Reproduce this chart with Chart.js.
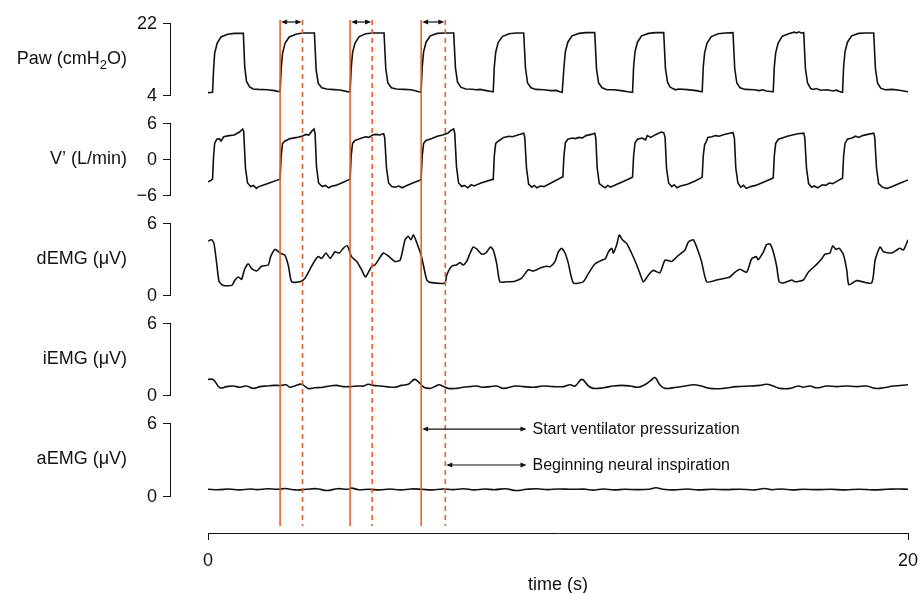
<!DOCTYPE html>
<html>
<head>
<meta charset="utf-8">
<script src="https://cdn.jsdelivr.net/npm/chart.js@4.4.0/dist/chart.umd.min.js"></script>
<style>
  body { margin: 0; background: #fff; }
  #wrap { width: 919px; height: 593px; position: relative; }
</style>
</head>
<body>
<div id="wrap"><canvas id="emgChart"></canvas></div>
<script>
// ---- data ----
const timeTicks = [0, 20];
const pawTicks = [4, 22];
const flowTicks = [-6, 0, 6];
const emgTicks = [0, 6];

// onset of ventilator pressurization (solid) and of neural inspiration (dashed), s
const ventStart = [2.06, 4.06, 6.09];
const neuralStart = [2.70, 4.69, 6.78];

// [time (s), value]
const pawPoints = [
  [0.00,4.6],[0.13,4.7],[0.16,10.5],[0.19,14.4],[0.26,16.9],[0.37,18.5],[0.56,19.2],[0.75,19.4],[1.01,19.4],[1.05,11.0],[1.10,7.4],[1.19,6.0],[1.29,5.5],[1.45,5.4],[1.70,5.3],[1.90,5.1],[2.04,4.8],
  [2.06,4.8],[2.09,10.5],[2.13,14.4],[2.20,16.9],[2.32,18.5],[2.51,19.2],[2.70,19.5],[3.04,19.5],[3.09,10.3],[3.15,6.9],[3.25,5.8],[3.39,5.5],[3.60,5.35],[3.77,5.25],[3.95,4.9],[4.04,4.75],
  [4.06,4.8],[4.09,10.5],[4.13,14.6],[4.20,17.0],[4.32,18.6],[4.51,19.3],[4.70,19.5],[5.03,19.5],[5.08,10.5],[5.14,7.0],[5.24,5.8],[5.38,5.5],[5.60,5.4],[5.80,5.3],[5.95,5.0],[6.07,4.7],
  [6.09,4.75],[6.12,11.0],[6.16,14.8],[6.23,17.2],[6.35,18.8],[6.55,19.4],[6.75,19.5],[7.02,19.5],[7.07,10.8],[7.13,7.2],[7.23,5.9],[7.37,5.5],[7.55,5.45],[7.65,5.3],[7.78,5.4],[7.95,5.1],[8.13,4.8],
  [8.15,4.8],[8.18,11.0],[8.22,14.7],[8.29,17.1],[8.41,18.6],[8.60,19.3],[8.80,19.5],[9.02,19.5],[9.07,10.8],[9.13,7.0],[9.23,5.8],[9.37,5.4],[9.60,5.3],[9.80,5.1],[9.95,5.15],[10.05,4.8],[10.12,4.7],
  [10.14,4.7],[10.17,11.0],[10.21,14.8],[10.28,17.2],[10.40,18.8],[10.60,19.4],[10.80,19.6],[11.05,19.6],[11.10,10.5],[11.16,7.0],[11.26,5.8],[11.40,5.3],[11.60,5.3],[11.80,5.1],[12.00,4.8],[12.11,4.7],
  [12.13,4.7],[12.16,11.0],[12.20,14.8],[12.27,17.2],[12.39,18.8],[12.59,19.4],[12.79,19.6],[13.02,19.6],[13.07,10.6],[13.13,7.2],[13.20,6.0],[13.28,5.6],[13.36,5.3],[13.45,5.5],[13.70,5.35],[13.95,5.1],[14.10,4.8],
  [14.12,4.8],[14.15,11.0],[14.19,14.6],[14.26,17.0],[14.38,18.6],[14.58,19.3],[14.78,19.5],[15.00,19.6],[15.05,10.5],[15.11,7.0],[15.20,5.8],[15.35,5.4],[15.60,5.3],[15.75,5.1],[15.85,5.3],[15.95,5.0],[16.13,4.8],
  [16.15,4.8],[16.18,11.0],[16.22,14.6],[16.29,17.0],[16.41,18.7],[16.61,19.4],[16.75,19.7],[16.82,19.5],[16.88,19.8],[16.95,19.5],[17.02,19.6],[17.07,10.5],[17.13,7.0],[17.22,5.6],[17.30,5.4],[17.38,5.6],[17.50,5.2],[17.70,5.3],[17.85,5.0],[17.95,5.2],[18.10,4.7],
  [18.13,4.7],[18.16,11.0],[18.20,14.8],[18.27,17.2],[18.39,18.8],[18.59,19.4],[18.79,19.5],[19.02,19.5],[19.07,10.5],[19.13,7.0],[19.22,5.7],[19.35,5.3],[19.55,5.4],[19.75,5.2],[20.00,4.8]
];

const flowPoints = [
  [0.00,-3.8],[0.08,-3.6],[0.13,-3.3],[0.16,0.5],[0.19,2.6],[0.25,3.3],[0.32,3.4],[0.37,3.0],[0.45,3.7],[0.60,3.9],[0.75,4.0],[0.90,4.5],[0.99,5.0],[1.02,4.6],[1.07,-1.5],[1.13,-4.0],[1.22,-4.6],[1.30,-4.4],[1.38,-4.9],[1.45,-4.6],[1.55,-4.4],[1.75,-4.0],[2.04,-3.4],
  [2.06,-3.3],[2.09,0.5],[2.13,2.6],[2.20,3.0],[2.35,3.4],[2.55,3.6],[2.70,3.85],[2.80,4.1],[2.88,4.0],[2.96,4.6],[3.03,5.0],[3.06,4.2],[3.10,-1.3],[3.16,-4.0],[3.26,-4.6],[3.35,-4.4],[3.45,-4.8],[3.55,-4.5],[3.65,-4.4],[3.85,-3.9],[4.04,-3.4],
  [4.06,-3.3],[4.09,0.5],[4.13,2.6],[4.20,3.1],[4.35,3.4],[4.50,3.7],[4.60,3.6],[4.70,4.0],[4.80,4.1],[4.90,4.0],[5.02,4.2],[5.05,3.5],[5.10,-1.5],[5.16,-4.0],[5.25,-4.6],[5.35,-4.7],[5.45,-4.5],[5.55,-4.8],[5.65,-4.5],[5.85,-4.0],[6.07,-3.5],
  [6.09,-3.4],[6.12,0.5],[6.16,2.6],[6.23,3.1],[6.40,3.4],[6.55,3.8],[6.70,4.0],[6.85,4.3],[6.95,4.8],[7.02,5.0],[7.05,4.3],[7.10,-1.3],[7.16,-4.0],[7.25,-4.6],[7.33,-4.4],[7.42,-4.8],[7.52,-4.3],[7.60,-4.5],[7.80,-4.0],[8.13,-3.4],
  [8.15,-3.4],[8.18,0.5],[8.22,2.6],[8.30,3.0],[8.45,3.6],[8.60,3.8],[8.70,3.7],[8.85,4.0],[9.02,4.3],[9.05,3.6],[9.10,-1.5],[9.16,-4.2],[9.25,-4.7],[9.32,-4.4],[9.40,-4.8],[9.50,-4.5],[9.60,-4.6],[9.80,-4.0],[10.12,-3.0],
  [10.14,-2.9],[10.17,0.5],[10.21,2.7],[10.28,3.3],[10.40,3.5],[10.50,3.4],[10.60,3.6],[10.70,3.5],[10.80,3.9],[10.95,4.1],[11.05,4.3],[11.08,3.5],[11.12,-1.5],[11.18,-4.1],[11.27,-4.5],[11.35,-4.8],[11.42,-4.4],[11.50,-4.7],[11.65,-4.3],[11.85,-3.8],[12.11,-3.1],
  [12.13,-3.0],[12.16,0.5],[12.20,2.7],[12.27,3.3],[12.40,3.5],[12.50,3.2],[12.55,3.9],[12.65,3.6],[12.80,4.1],[12.95,4.5],[13.02,4.4],[13.06,3.6],[13.10,-1.5],[13.16,-4.0],[13.25,-4.6],[13.32,-4.3],[13.40,-4.8],[13.50,-4.5],[13.70,-4.2],[13.90,-3.7],[14.10,-3.1],
  [14.12,-3.0],[14.15,0.5],[14.19,2.4],[14.23,2.8],[14.28,3.6],[14.40,3.7],[14.50,3.9],[14.60,3.8],[14.75,4.1],[14.90,4.3],[15.00,4.4],[15.04,3.5],[15.08,-1.5],[15.14,-4.0],[15.22,-4.7],[15.30,-4.4],[15.38,-4.9],[15.50,-4.6],[15.65,-4.4],[15.85,-3.9],[16.13,-3.2],
  [16.15,-3.1],[16.18,0.5],[16.22,2.6],[16.30,3.3],[16.45,3.6],[16.55,3.8],[16.70,4.0],[16.85,4.2],[17.02,4.3],[17.05,3.6],[17.10,-1.5],[17.16,-4.1],[17.25,-4.7],[17.32,-4.5],[17.42,-4.8],[17.55,-4.3],[17.65,-4.4],[17.75,-4.0],[17.85,-4.1],[18.00,-3.6],[18.10,-3.3],
  [18.13,-3.2],[18.16,0.5],[18.20,2.6],[18.27,3.3],[18.40,3.5],[18.50,3.8],[18.60,3.6],[18.70,3.9],[18.85,4.1],[19.02,4.3],[19.05,3.6],[19.10,-1.5],[19.16,-4.1],[19.25,-4.6],[19.32,-4.8],[19.40,-4.9],[19.55,-4.6],[19.75,-4.1],[20.00,-3.5]
];

const demgPoints = [
  [0,4.5],[0.1,4.6],[0.17,4.3],[0.25,2.6],[0.32,1.1],[0.44,0.8],[0.68,0.8],[0.77,1.25],[0.87,1.5],[0.96,1.3],[1.04,2.1],[1.15,2.6],[1.25,2.2],[1.39,2.0],[1.53,2.4],[1.72,2.5],[1.79,3.2],[1.91,3.8],
  [2.06,3.5],[2.2,3.3],[2.3,2.4],[2.39,1.1],[2.63,1.1],[2.77,1.4],[2.96,2.4],[3.06,2.9],[3.15,3.2],[3.25,3.05],[3.37,3.5],[3.49,3.05],[3.63,3.6],[3.75,3.5],[3.87,3.9],[3.98,4.1],
  [4.1,3.2],[4.25,2.8],[4.39,2.1],[4.5,1.5],[4.68,2.4],[4.77,2.5],[5.01,3.5],[5.15,3.25],[5.34,2.8],[5.49,2.9],[5.63,4.6],[5.72,4.9],[5.8,4.6],[5.87,5.0],[5.96,4.4],
  [6.1,3.2],[6.25,1.25],[6.34,1.05],[6.77,1.0],[6.82,1.65],[6.96,2.4],[7.1,2.5],[7.2,2.7],[7.29,2.5],[7.39,2.8],[7.49,3.5],[7.58,4.0],[7.69,3.8],[7.82,3.4],[7.94,3.5],[8.07,4.0],
  [8.15,3.75],[8.25,2.6],[8.34,1.1],[8.53,1.1],[8.77,1.15],[8.96,1.4],[9.15,2.1],[9.3,2.0],[9.49,2.25],[9.68,2.4],[9.77,2.35],[9.87,2.6],[9.93,2.9],[10.01,3.6],[10.1,3.9],
  [10.2,3.5],[10.29,2.7],[10.44,1.0],[10.72,1.1],[10.87,1.8],[11.06,2.6],[11.25,2.9],[11.35,3.0],[11.44,3.6],[11.54,3.9],[11.58,3.5],[11.68,4.2],[11.75,5.0],[11.84,4.6],[11.96,4.3],
  [12.1,3.5],[12.25,2.5],[12.34,1.8],[12.44,1.1],[12.58,1.65],[12.72,2.05],[12.91,1.85],[13.06,2.9],[13.25,2.8],[13.44,3.3],[13.63,3.75],[13.72,4.4],[13.87,4.6],[14.01,3.6],
  [14.1,2.8],[14.25,1.1],[14.53,1.25],[14.77,1.4],[14.91,1.5],[15.06,1.9],[15.2,2.15],[15.39,1.9],[15.53,3.0],[15.66,3.2],[15.72,2.95],[15.87,3.6],[15.96,4.2],[16.06,4.25],
  [16.15,3.6],[16.25,2.35],[16.32,1.1],[16.44,1.0],[16.68,1.25],[16.77,1.1],[17.01,1.25],[17.15,1.9],[17.39,2.55],[17.53,3.0],[17.63,3.4],[17.77,3.5],[17.85,4.1],[17.94,3.8],[18.03,3.9],
  [18.15,3.4],[18.25,2.1],[18.31,0.85],[18.53,1.2],[18.96,1.0],[19.06,2.9],[19.2,4.0],[19.3,3.6],[19.53,3.5],[19.68,3.75],[19.77,3.9],[19.87,3.75],[20,4.6]
];

const iemgPoints = [
  [0,1.3],[0.15,1.28],[0.34,0.6],[0.53,0.7],[0.72,0.75],[0.91,0.65],[1.1,0.75],[1.3,0.55],[1.49,0.7],[1.68,0.75],[1.87,0.8],[2.1,0.8],[2.23,0.85],[2.34,0.65],[2.48,0.75],[2.67,0.9],[2.86,0.55],
  [3.05,0.6],[3.29,0.65],[3.48,0.75],[3.67,0.8],[3.87,0.7],[4.06,0.7],[4.29,0.75],[4.44,0.75],[4.58,0.9],[4.72,0.8],[4.91,0.75],[5.1,0.7],[5.34,0.65],[5.53,0.8],[5.72,0.9],[5.9,1.3],
  [6.01,1.1],[6.17,0.65],[6.34,0.55],[6.48,0.7],[6.6,0.85],[6.7,0.75],[6.86,0.55],[7.1,0.55],[7.29,0.65],[7.49,0.7],[7.68,0.75],[7.82,0.65],[8.07,0.7],[8.25,0.75],[8.44,0.55],[8.77,0.75],
  [9.01,0.7],[9.3,0.65],[9.58,0.75],[9.87,0.7],[10.15,0.7],[10.34,0.85],[10.49,0.75],[10.68,1.3],[10.87,0.75],[11.01,0.55],[11.3,0.6],[11.58,0.75],[11.82,0.8],[12.06,0.75],[12.29,0.65],
  [12.48,0.85],[12.63,1.15],[12.77,1.45],[12.91,0.85],[13.06,0.55],[13.39,0.65],[13.63,0.75],[13.87,0.85],[14.1,0.75],[14.34,0.55],[14.72,0.55],[15.1,0.7],[15.49,0.75],[15.77,0.8],
  [15.96,0.9],[16.15,0.75],[16.34,0.55],[16.63,0.55],[16.86,0.75],[17.01,0.65],[17.2,0.75],[17.39,0.6],[17.68,0.75],[17.96,0.7],[18.25,0.75],[18.53,0.7],[18.82,0.75],[19.06,0.55],
  [19.3,0.6],[19.58,0.75],[20,0.85]
];

const aemgPoints = [
  [0,0.55],[0.3,0.52],[0.6,0.57],[0.9,0.5],[1.2,0.58],[1.4,0.52],[1.7,0.6],[2.0,0.55],[2.2,0.62],[2.5,0.5],[2.8,0.55],[3.1,0.6],[3.4,0.45],[3.7,0.6],[4.0,0.55],[4.1,0.65],[4.3,0.52],
  [4.6,0.55],[4.9,0.5],[5.2,0.57],[5.5,0.5],[5.8,0.58],[6.1,0.55],[6.4,0.5],[6.7,0.58],[7.0,0.52],[7.3,0.6],[7.6,0.5],[7.9,0.57],[8.2,0.52],[8.5,0.6],[8.8,0.45],[9.1,0.55],[9.4,0.6],
  [9.7,0.52],[10.0,0.58],[10.4,0.55],[10.8,0.56],[11.0,0.48],[11.3,0.58],[11.6,0.5],[11.9,0.55],[12.3,0.52],[12.6,0.56],[12.8,0.68],[13.0,0.55],[13.3,0.5],[13.7,0.58],[14.0,0.5],
  [14.4,0.55],[14.8,0.52],[15.2,0.56],[15.6,0.5],[15.9,0.62],[16.1,0.52],[16.4,0.58],[16.7,0.5],[17.0,0.55],[17.4,0.52],[17.8,0.55],[18.2,0.5],[18.6,0.56],[19.0,0.5],[19.4,0.55],
  [19.7,0.58],[20,0.55]
];

// ---- layout ----
const FONT = '"Liberation Sans", Arial, Helvetica, sans-serif';
const AREA_TOP = 10, AREA_BOTTOM = 533;   // chart area in canvas px
const SPINE_X = 170, TICK_LEN = 7, TITLE_RIGHT = 127;
const RED = '#e3612f';

// each panel gets its own y scale; min/max chosen so the tick range lands on [yHi, yLo] px
function panelScale(lo, hi, yHi, yLo) {
  const ppu = (yLo - yHi) / (hi - lo);
  return {
    type: 'linear', position: 'left', display: false,
    min: lo - (AREA_BOTTOM - yLo) / ppu,
    max: hi + (yHi - AREA_TOP) / ppu
  };
}

const panels = [
  { id: 'yPaw',  ticks: pawTicks,  title: [['Paw (cmH', 0], ['2', 1], ['O)', 0]], scale: panelScale(4, 22, 23, 95) },
  { id: 'yFlow', ticks: flowTicks, title: [['V\u2019 (L/min)', 0]], scale: panelScale(-6, 6, 123, 195) },
  { id: 'yDemg', ticks: emgTicks,  title: [['dEMG (\u03bcV)', 0]], scale: panelScale(0, 6, 223, 295) },
  { id: 'yIemg', ticks: emgTicks,  title: [['iEMG (\u03bcV)', 0]], scale: panelScale(0, 6, 323, 395) },
  { id: 'yAemg', ticks: emgTicks,  title: [['aEMG (\u03bcV)', 0]], scale: panelScale(0, 6, 423, 496) }
];

const notes = [
  { text: 'Start ventilator pressurization', from: ventStart[2], level: 5.5 },
  { text: 'Beginning neural inspiration', from: neuralStart[2], level: 2.55 }
];
const noteEnd = 9.1;

function toXY(points) {
  return points.map(p => ({ x: p[0], y: p[1] }));
}

function trace(points, axis, tension) {
  return {
    data: toXY(points),
    yAxisID: axis,
    borderColor: '#111',
    borderWidth: 1.6,
    pointRadius: 0,
    fill: false,
    tension: tension
  };
}

function arrowHead(ctx, x, y, dir) {
  ctx.beginPath();
  ctx.moveTo(x, y);
  ctx.lineTo(x - dir * 6, y - 2.5);
  ctx.lineTo(x - dir * 6, y + 2.5);
  ctx.closePath();
  ctx.fill();
}

function doubleArrow(ctx, x1, x2, y) {
  ctx.beginPath();
  ctx.moveTo(x1 + 2, y);
  ctx.lineTo(x2 - 2, y);
  ctx.stroke();
  arrowHead(ctx, x1, y, -1);
  arrowHead(ctx, x2, y, 1);
}

// axes brackets, titles, red markers and notes
const decorations = {
  id: 'decorations',
  afterDraw(chart) {
    const ctx = chart.ctx;
    const xs = chart.scales.x;
    const area = chart.chartArea;
    ctx.save();
    ctx.strokeStyle = '#111';
    ctx.fillStyle = '#111';
    ctx.lineWidth = 1;

    panels.forEach(p => {
      const s = chart.scales[p.id];
      const yTop = s.getPixelForValue(p.ticks[p.ticks.length - 1]);
      const yBot = s.getPixelForValue(p.ticks[0]);
      ctx.beginPath();
      ctx.moveTo(SPINE_X + 0.5, yTop);
      ctx.lineTo(SPINE_X + 0.5, yBot);
      p.ticks.forEach(t => {
        const y = Math.round(s.getPixelForValue(t)) + 0.5;
        ctx.moveTo(SPINE_X - TICK_LEN, y);
        ctx.lineTo(SPINE_X + 1, y);
      });
      ctx.stroke();

      ctx.font = '18px ' + FONT;
      ctx.textAlign = 'right';
      ctx.textBaseline = 'middle';
      p.ticks.forEach(t => {
        const label = t < 0 ? '\u2212' + Math.abs(t) : String(t);
        ctx.fillText(label, SPINE_X - TICK_LEN - 6, s.getPixelForValue(t) + 1);
      });

      // title, with optional subscript parts
      const mid = (yTop + yBot) / 2;
      let total = 0;
      const widths = p.title.map(([txt, sub]) => {
        ctx.font = (sub ? '13px ' : '18px ') + FONT;
        const w = ctx.measureText(txt).width;
        total += w;
        return w;
      });
      let x = TITLE_RIGHT - total;
      ctx.textAlign = 'left';
      p.title.forEach(([txt, sub], i) => {
        ctx.font = (sub ? '13px ' : '18px ') + FONT;
        ctx.fillText(txt, x, mid + (sub ? 6 : 0));
        x += widths[i];
      });
    });

    // red onset lines
    const lineTop = area.top + 10, lineBot = area.bottom - 7;
    ctx.strokeStyle = RED;
    ctx.lineWidth = 1.6;
    ventStart.forEach(t => {
      const x = xs.getPixelForValue(t);
      ctx.beginPath(); ctx.moveTo(x, lineTop); ctx.lineTo(x, lineBot); ctx.stroke();
    });
    ctx.setLineDash([5, 4]);
    neuralStart.forEach(t => {
      const x = xs.getPixelForValue(t);
      ctx.beginPath(); ctx.moveTo(x, lineTop); ctx.lineTo(x, lineBot); ctx.stroke();
    });
    ctx.setLineDash([]);

    // delay arrows on top
    ctx.strokeStyle = '#111';
    ctx.fillStyle = '#111';
    ctx.lineWidth = 1.2;
    const yArrow = chart.scales.yPaw.getPixelForValue(pawTicks[1]) - 1;
    ventStart.forEach((t, i) => {
      doubleArrow(ctx, xs.getPixelForValue(t) + 1, xs.getPixelForValue(neuralStart[i]) - 1, yArrow);
    });

    // notes
    ctx.font = '16px ' + FONT;
    ctx.textAlign = 'left';
    ctx.textBaseline = 'middle';
    notes.forEach(n => {
      const y = chart.scales.yAemg.getPixelForValue(n.level);
      const x2 = xs.getPixelForValue(noteEnd);
      doubleArrow(ctx, xs.getPixelForValue(n.from) + 1, x2, y);
      ctx.fillText(n.text, x2 + 6, y + 1);
    });
    ctx.restore();
  }
};

const scales = {
  x: {
    type: 'linear',
    position: 'bottom',
    min: timeTicks[0],
    max: timeTicks[timeTicks.length - 1],
    afterBuildTicks: axis => { axis.ticks = timeTicks.map(v => ({ value: v })); },
    afterFit: axis => {
      axis.height = 60;
      axis.paddingLeft = 0;
      axis.paddingRight = 0;
    },
    grid: { drawOnChartArea: false, color: '#111', tickLength: 7, lineWidth: 1 },
    border: { color: '#111', width: 1 },
    ticks: { color: '#111', font: { family: FONT, size: 18 }, padding: 10, maxRotation: 0 },
    title: { display: true, text: 'time (s)', color: '#111', font: { family: FONT, size: 18 }, padding: { top: 0, bottom: -3 } }
  }
};
panels.forEach(p => { scales[p.id] = p.scale; });

const ctx = document.getElementById('emgChart').getContext('2d');
const emgChart = new Chart(ctx, {
  type: 'line',
  data: {
    datasets: [
      trace(pawPoints, 'yPaw', 0),
      trace(flowPoints, 'yFlow', 0),
      trace(demgPoints, 'yDemg', 0.2),
      trace(iemgPoints, 'yIemg', 0.4),
      trace(aemgPoints, 'yAemg', 0.4)
    ]
  },
  options: {
    responsive: true,
    maintainAspectRatio: false,
    animation: false,
    devicePixelRatio: 1,
    layout: { padding: { left: 208, right: 11, top: AREA_TOP, bottom: 0 } },
    scales: scales,
    plugins: { legend: { display: false }, tooltip: { enabled: false } }
  },
  plugins: [decorations]
});
</script>
</body>
</html>
